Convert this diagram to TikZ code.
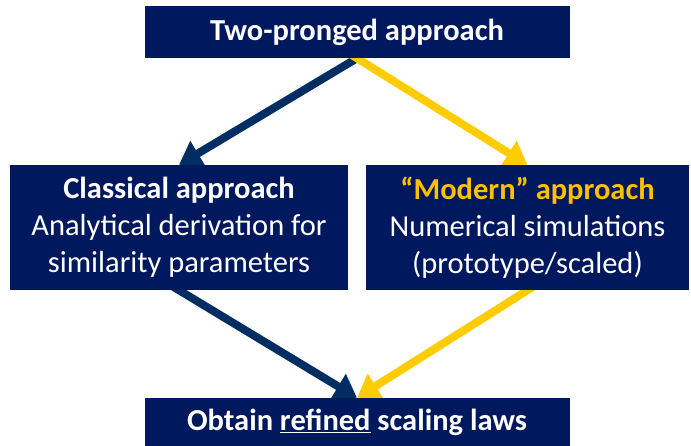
\documentclass[tikz,border=0pt]{standalone}
\usepackage{fontspec}
\setmainfont{Carlito}
\usetikzlibrary{arrows.meta,backgrounds}

\definecolor{navybox}{RGB}{0,24,94}
\definecolor{navyarrow}{RGB}{0,45,98}
\definecolor{goldarrow}{RGB}{255,204,0}
\definecolor{goldtext}{RGB}{255,192,0}

\tikzset{
  stepbox/.style={fill=navybox, text=white, inner sep=0pt, align=center,
    font=\fontsize{30.5}{37}\selectfont},
  prong/.style={line width=8pt, shorten <=-8pt,
    -{Triangle[width=28pt,length=22pt]}},
}

\begin{document}
\begin{tikzpicture}[x=1pt,y=-1pt]
        \useasboundingbox (0,0) rectangle (691,446);

        % Boxes
        \node[stepbox, minimum width=425pt, minimum height=52pt] (top) at (357,32) {\textbf{Two-pronged approach}};
        \node[stepbox, minimum width=338pt, minimum height=125pt] (classic) at (179,227.5) {\textbf{Classical approach}\\Analytical derivation for\\similarity parameters};
        \node[stepbox, minimum width=323pt, minimum height=125pt] (modern) at (527.5,227.5) {\textcolor{goldtext}{\textbf{“Modern” approach}}\\Numerical simulations\\(prototype/scaled)};
        \node[stepbox, minimum width=425pt, minimum height=48pt] (result) at (357,422) {\textbf{Obtain \underline{refined} scaling laws}};

        % Arrows, kept behind the boxes
        \begin{scope}[on background layer]
            \draw[prong, navyarrow] (top.south) -- (classic.north);
            \draw[prong, goldarrow] (top.south) -- (modern.north);
            \draw[prong, navyarrow] (classic.south) -- (result.north);
            \draw[prong, goldarrow] (modern.south) -- (result.north);
        \end{scope}
    \end{tikzpicture}
\end{document}
